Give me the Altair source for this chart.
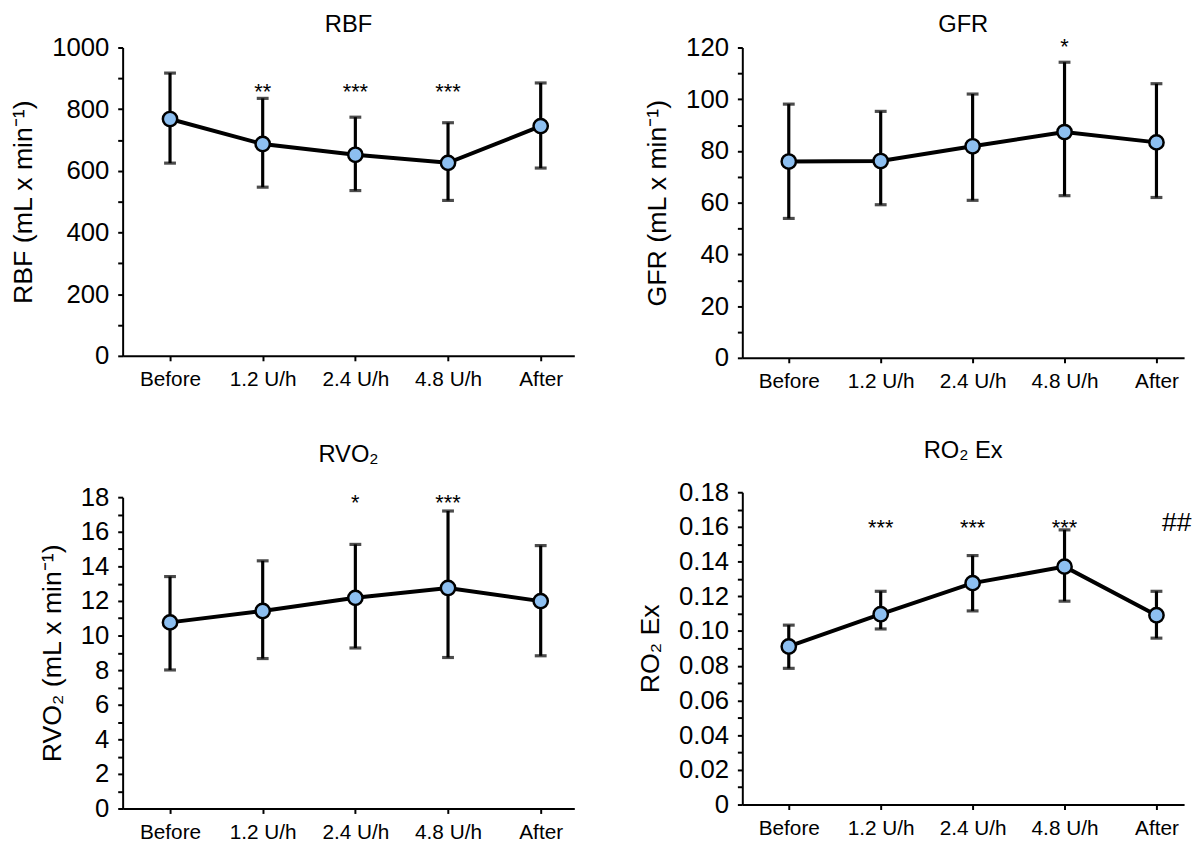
import altair as alt
import pandas as pd

categories = ["Before", "1.2 U/h", "2.4 U/h", "4.8 U/h", "After"]

rbf_mean = [768, 687, 652, 626, 745]
rbf_lo = [625, 547, 536, 504, 609]
rbf_hi = [917, 835, 774, 756, 885]
rbf_marks = ["", "**", "***", "***", ""]
rbf_mark_y = 876

gfr_mean = [75.9, 76.1, 81.8, 87.3, 83.3]
gfr_lo = [53.9, 59.2, 60.9, 62.7, 62.0]
gfr_hi = [98.1, 95.3, 102.0, 114.3, 106.0]
gfr_marks = ["", "", "", "*", ""]
gfr_mark_y = 122.5

rvo2_mean = [10.76, 11.42, 12.18, 12.75, 11.99]
rvo2_lo = [8.01, 8.67, 9.28, 8.73, 8.83]
rvo2_hi = [13.41, 14.32, 15.27, 17.2, 15.2]
rvo2_marks = ["", "", "*", "***", ""]
rvo2_mark_y = 18.0

ro2_mean = [0.0911, 0.1097, 0.1276, 0.1371, 0.1091]
ro2_lo = [0.0785, 0.1012, 0.1116, 0.1172, 0.0959]
ro2_hi = [0.1034, 0.1229, 0.1435, 0.1583, 0.1229]
ro2_marks = ["", "***", "***", "***", "##"]
ro2_mark_y = 0.163

FONT = "Liberation Sans"
FILL = "#8dbff0"


def panel(title, ytitle, mean, lo, hi, marks, mark_y, ymax, minor, fmt,
          width, height, pad, align, toffset):
    df = pd.DataFrame({"cond": categories, "mean": mean, "lo": lo, "hi": hi})
    stars = pd.DataFrame({"cond": categories, "mark": marks, "mark_y": [mark_y] * 5})
    stars = stars[stars["mark"].str.startswith("*")]
    hashes = pd.DataFrame({"cond": categories, "mark": marks, "mark_y": [mark_y] * 5})
    hashes = hashes[hashes["mark"].str.startswith("#")]

    n = int(round(ymax / minor))
    vals = [round(i * minor, 6) for i in range(n + 1)]
    yscale = alt.Scale(domain=[0, ymax], nice=False, zero=True)
    lab = (f"round(datum.value/{minor}) % 2 == 0 ? "
           f"(datum.value == 0 ? '0' : format(datum.value, '{fmt}')) : ''")
    yaxis = alt.Axis(values=vals, labelExpr=lab, labelFontSize=26,
                     labelPadding=9, tickSize=5, tickWidth=2,
                     domainWidth=2, titleFontSize=27,
                     titlePadding=14, titleFontWeight="normal", grid=False)

    def Y(field):
        return alt.Y(field, type="quantitative", scale=yscale, title=ytitle,
                     axis=yaxis)

    x = alt.X("cond:N", sort=categories, title=None,
              scale=alt.Scale(type="point", padding=pad, align=align),
              axis=alt.Axis(labelAngle=0, labelFontSize=21, labelPadding=8,
                            tickSize=5, tickWidth=2, domainWidth=2, grid=False))

    rule = alt.Chart(df).mark_rule(color="black", strokeWidth=3.2).encode(
        x=x, y=Y("lo"), y2="hi:Q")
    cap_hi = alt.Chart(df).mark_tick(color="black", size=12, thickness=3.2).encode(
        x=x, y=Y("hi"))
    cap_lo = alt.Chart(df).mark_tick(color="black", size=12, thickness=3.2).encode(
        x=x, y=Y("lo"))
    line = alt.Chart(df).mark_line(color="black", strokeWidth=4).encode(
        x=x, y=Y("mean"))
    pts = alt.Chart(df).mark_point(filled=True, shape="circle", size=210,
                                   fill=FILL, stroke="black", strokeWidth=2.5,
                                   opacity=1).encode(x=x, y=Y("mean"))
    layers = [rule, cap_hi, cap_lo, line, pts]
    if len(stars):
        layers.append(alt.Chart(stars).mark_text(
            fontSize=22, font=FONT, color="black", baseline="alphabetic",
            dy=13).encode(x=x, y=Y("mark_y"), text="mark:N"))
    if len(hashes):
        layers.append(alt.Chart(hashes).mark_text(
            fontSize=27, font=FONT, fontStyle="italic", color="black",
            baseline="alphabetic", dx=20, dy=9).encode(
            x=x, y=Y("mark_y"), text="mark:N"))
    tp = alt.TitleParams(title, fontSize=24, font=FONT, color="black",
                         fontWeight="normal", offset=toffset)
    return alt.layer(*layers).properties(width=width, height=height, title=tp)


LP, LA, LW = 0.437, 0.585, 457
RP, RA, RW = 0.403, 0.627, 447

p1 = panel("RBF", "RBF (mL x min⁻¹)", rbf_mean, rbf_lo, rbf_hi, rbf_marks,
           rbf_mark_y, 1000, 100, "d", LW, 312, LP, LA, -2)
p2 = panel("GFR", "GFR (mL x min⁻¹)", gfr_mean, gfr_lo, gfr_hi, gfr_marks,
           gfr_mark_y, 120, 10, "d", RW, 314, RP, RA, -2)
p3 = panel("RVO₂", "RVO₂ (mL x min⁻¹)", rvo2_mean, rvo2_lo, rvo2_hi, rvo2_marks,
           rvo2_mark_y, 18, 1, "d", LW, 315, LP, LA, 18)
p4 = panel("RO₂ Ex", "RO₂ Ex", ro2_mean, ro2_lo, ro2_hi, ro2_marks,
           ro2_mark_y, 0.18, 0.01, ".2f", RW, 316, RP, RA, 17)

left = alt.vconcat(p1, p3, spacing=54)
right = alt.vconcat(p2, p4, spacing=48)
chart = alt.hconcat(left, right, spacing=63).properties(
    padding={"left": 2, "top": 0, "right": 0, "bottom": 0}
).configure_view(
    stroke=None
).configure_axis(
    domainColor="black", tickColor="black", labelColor="black",
    titleColor="black", labelFont=FONT, titleFont=FONT, grid=False,
)

chart.save("out.html", embed_options={"renderer": "svg", "actions": False})
